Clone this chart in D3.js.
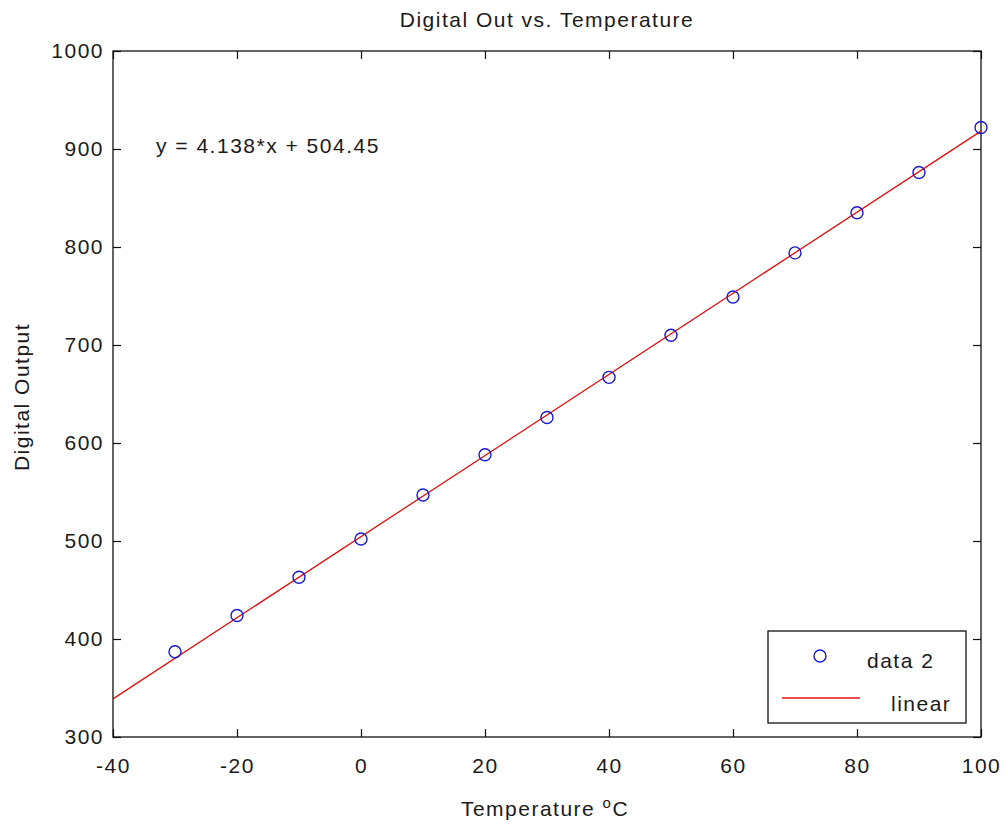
<!DOCTYPE html>
<html>
<head>
<meta charset="utf-8">
<script src="https://cdnjs.cloudflare.com/ajax/libs/d3/7.8.5/d3.min.js"></script>
<style>
    body { margin: 0; background: #fff; }
    svg text { font-family: "Liberation Sans", Arial, sans-serif; font-size: 21px; letter-spacing: 1.5px; fill: #1a1a1a; }
</style>
</head>
<body>
<div class="chartDiv"></div>
<script>
// #region Data
const temperatures = [-30, -20, -10, 0, 10, 20, 30, 40, 50, 60, 70, 80, 90, 100];
const digitalOut = [387, 424, 463, 502, 547, 588, 626, 667, 710, 749, 794, 835, 876, 922];
// end points of the linear fit line (y = 4.138*x + 504.45)
const fitX = [-40, 100];
const fitY = [338.9, 918.25];
const xTicks = [-40, -20, 0, 20, 40, 60, 80, 100];
const yTicks = [300, 400, 500, 600, 700, 800, 900, 1000];
const legendNames = ['data 2', 'linear'];
// #endregion

let width = 1006, height = 825;
let margin = { left: 113, right: 25, top: 51, bottom: 88 };

let svg = d3.select('.chartDiv')
    .append('svg')
    .attr('width', width)
    .attr('height', height);

// #region XScale && YScale
let xScale = d3.scaleLinear()
    .domain([-40, 100])
    .range([margin.left, width - margin.right]);
let yScale = d3.scaleLinear()
    .domain([300, 1000])
    .range([height - margin.bottom, margin.top]);

let plotW = xScale.range()[1] - xScale.range()[0];
let plotH = yScale.range()[0] - yScale.range()[1];
let plainFormat = d => String(d);

let gX = svg.append('g')
    .attr('class', 'xScale')
    .attr('transform', 'translate(0,' + (height - margin.bottom) + ')')
    .call(d3.axisBottom(xScale).tickValues(xTicks).tickFormat(plainFormat).tickSizeInner(-8).tickSizeOuter(0).tickPadding(21));
let gXTop = svg.append('g')
    .attr('transform', 'translate(0,' + margin.top + ')')
    .call(d3.axisTop(xScale).tickValues(xTicks).tickSizeInner(-8).tickSizeOuter(0).tickFormat(''));
let gY = svg.append('g')
    .attr('class', 'yScale')
    .attr('transform', 'translate(' + margin.left + ',0)')
    .call(d3.axisLeft(yScale).tickValues(yTicks).tickFormat(plainFormat).tickSizeInner(-8).tickSizeOuter(0).tickPadding(9));
let gYRight = svg.append('g')
    .attr('transform', 'translate(' + (width - margin.right) + ',0)')
    .call(d3.axisRight(yScale).tickValues(yTicks).tickSizeInner(-8).tickSizeOuter(0).tickFormat(''));

[gX, gXTop, gY, gYRight].forEach(g => {
    g.select('.domain').remove();
    g.selectAll('line').attr('stroke', '#111').attr('stroke-width', 1.2);
    g.selectAll('text').attr('font-family', null).attr('font-size', null);
});

svg.append('rect')
    .attr('x', margin.left)
    .attr('y', margin.top)
    .attr('width', plotW)
    .attr('height', plotH)
    .attr('fill', 'none')
    .attr('stroke', '#111')
    .attr('stroke-width', 1.3);
// #endregion

// #region Fit line and points
let fitData = fitX.map((x, i) => ({ x: x, y: fitY[i] }));
svg.append('path')
    .datum(fitData)
    .attr('d', d3.line().x(d => xScale(d.x)).y(d => yScale(d.y)))
    .attr('fill', 'none')
    .attr('stroke', '#e01010')
    .attr('stroke-width', 1.3);

svg.append('g')
    .selectAll('circle')
    .data(temperatures)
    .enter()
    .append('circle')
    .attr('cx', d => xScale(d))
    .attr('cy', (d, i) => yScale(digitalOut[i]))
    .attr('r', 6)
    .attr('fill', 'none')
    .attr('stroke', '#1a1acc')
    .attr('stroke-width', 1.4);
// #endregion

// #region Titles
svg.append('text')
    .attr('x', (margin.left + width - margin.right) / 2)
    .attr('y', 27)
    .attr('text-anchor', 'middle')
    .text('Digital Out vs. Temperature');

let xTitle = svg.append('text')
    .attr('x', 545)
    .attr('y', 816)
    .attr('text-anchor', 'middle');
xTitle.append('tspan').text('Temperature ');
xTitle.append('tspan').attr('dy', -8).attr('font-size', 15).text('o');
xTitle.append('tspan').attr('dy', 8).text('C');

svg.append('text')
    .attr('transform', 'translate(29,' + 397 + ') rotate(-90)')
    .attr('text-anchor', 'middle')
    .text('Digital Output');

svg.append('text')
    .attr('x', 156)
    .attr('y', 153)
    .text('y = 4.138*x + 504.45');
// #endregion

// #region Legend
let gLegend = svg.append('g').attr('class', 'legend');
gLegend.append('rect')
    .attr('x', 768)
    .attr('y', 631)
    .attr('width', 198)
    .attr('height', 92)
    .attr('fill', '#fff')
    .attr('stroke', '#111')
    .attr('stroke-width', 1.3);
gLegend.append('circle')
    .attr('cx', 820)
    .attr('cy', 656)
    .attr('r', 6)
    .attr('fill', 'none')
    .attr('stroke', '#1a1acc')
    .attr('stroke-width', 1.4);
gLegend.append('line')
    .attr('x1', 782)
    .attr('x2', 860)
    .attr('y1', 698)
    .attr('y2', 698)
    .attr('stroke', '#e01010')
    .attr('stroke-width', 1.3);
gLegend.append('text').attr('x', 867).attr('y', 668).text(legendNames[0]);
gLegend.append('text').attr('x', 891).attr('y', 711).text(legendNames[1]);
// #endregion
</script>
</body>
</html>
